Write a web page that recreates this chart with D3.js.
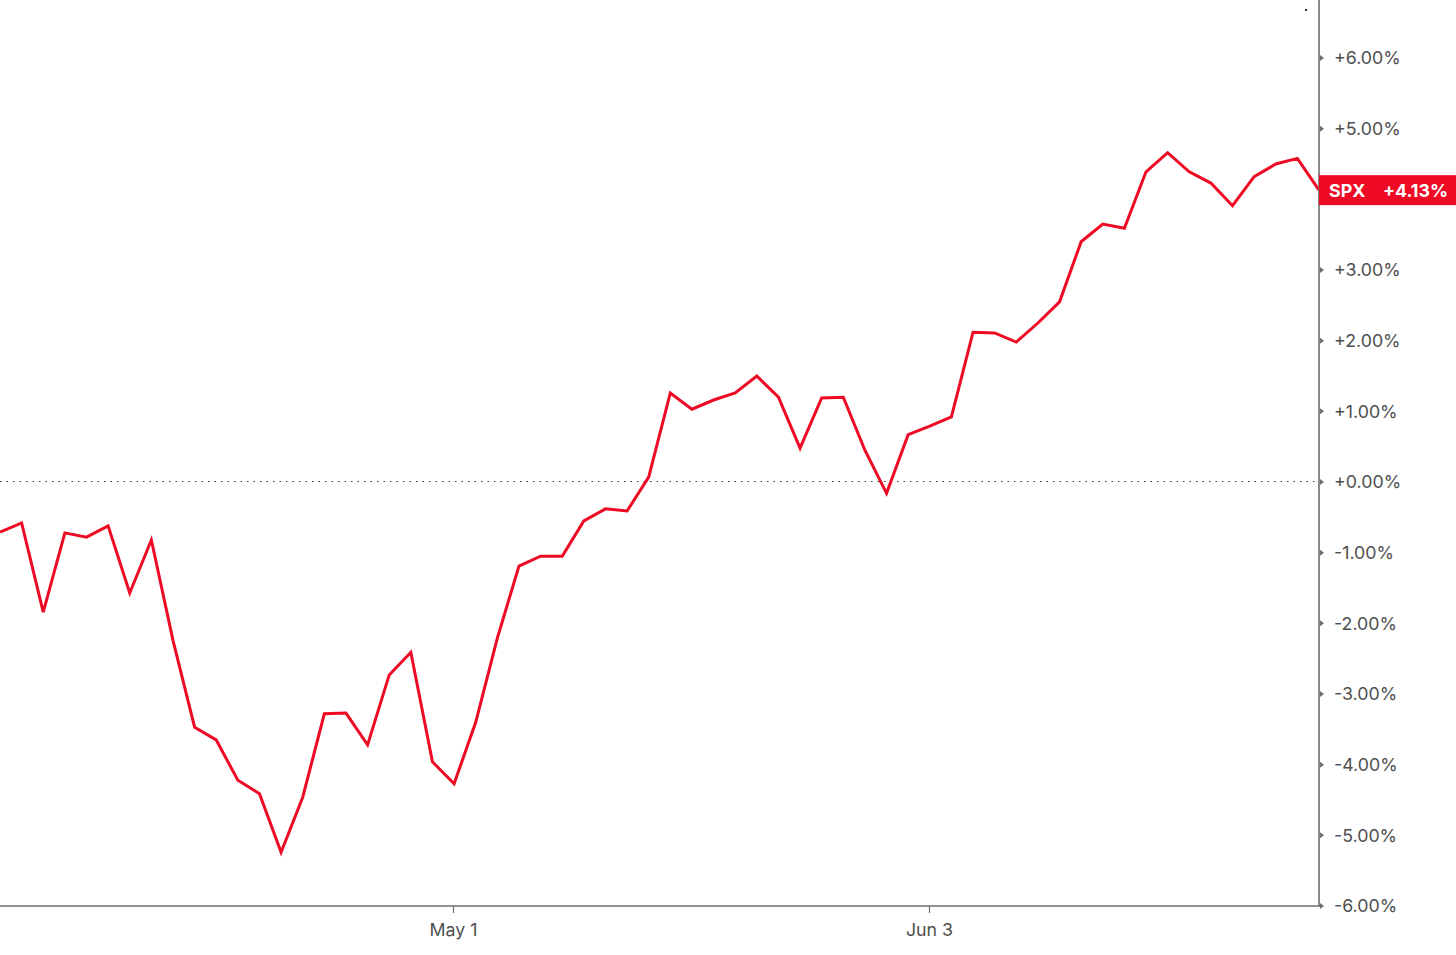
<!DOCTYPE html>
<html>
<head>
<meta charset="utf-8">
<script src="https://cdn.jsdelivr.net/npm/d3@7"></script>
<style>
  html, body { margin: 0; padding: 0; background: #fff; }
  svg { display: block; }
  text { font-family: Inter, "Liberation Sans", sans-serif; }
</style>
</head>
<body>
<svg id="chart" width="1456" height="955"></svg>
<script>
// Trading-day index 0 = Apr 2 ... 61 = Jun 28
const dayIndex = d3.range(62);
const spxPct = [
  -0.71, -0.58, -1.84, -0.72, -0.78, -0.62, -1.57, -0.82, -2.24, -3.47,
  -3.65, -4.22, -4.41, -5.24, -4.46, -3.28, -3.27, -3.72, -2.73, -2.41,
  -3.96, -4.27, -3.40, -2.21, -1.19, -1.05, -1.05, -0.55, -0.38, -0.41,
   0.07,  1.26,  1.03,  1.16,  1.26,  1.50,  1.20,  0.48,  1.19,  1.20,
   0.45, -0.16,  0.67,  0.79,  0.92,  2.12,  2.11,  1.98,  2.25,  2.55,
   3.40,  3.65,  3.59,  4.39,  4.66,  4.39,  4.23,  3.91,  4.32,  4.50,
   4.58,  4.13
];
const yTicks = [6, 5, 4, 3, 2, 1, 0, -1, -2, -3, -4, -5, -6];
const xTickIndex = [21, 43];
const xTickLabels = ["May 1", "Jun 3"];
const seriesName = "SPX";
const lastLabel = "+4.13%";

const RED = "#ee0a24";
const GREY = "#6e6e6e";
const FS = 17.8;

const svg = d3.select("#chart");
const plotLeft = 0, plotRight = 1319, plotBottom = 906;

const x = d3.scaleLinear().domain([0, 61]).range([plotLeft, plotRight]);
const y = d3.scaleLinear().domain([-6, 6]).range([906, 58]);

const fmt = v => (v >= 0 ? "+" : "-") + Math.abs(v).toFixed(2) + "%";
const lastY = y(spxPct[spxPct.length - 1]);

// zero dotted line
svg.append("line")
  .attr("x1", plotLeft).attr("x2", plotRight)
  .attr("y1", Math.round(y(0)) - 0.5).attr("y2", Math.round(y(0)) - 0.5)
  .attr("stroke", "#333").attr("stroke-width", 1.2)
  .attr("stroke-dasharray", "1.5,5");

// line
const line = d3.line().x((d, i) => x(dayIndex[i])).y(d => y(d));
svg.append("path")
  .datum(spxPct)
  .attr("d", line)
  .attr("fill", "none")
  .attr("stroke", RED)
  .attr("stroke-width", 3)
  .attr("stroke-linejoin", "miter");

// axes frame
svg.append("line")
  .attr("x1", plotRight).attr("x2", plotRight).attr("y1", 0).attr("y2", plotBottom)
  .attr("stroke", GREY).attr("stroke-width", 1.6);
svg.append("line")
  .attr("x1", 0).attr("x2", plotRight + 2).attr("y1", plotBottom).attr("y2", plotBottom)
  .attr("stroke", GREY).attr("stroke-width", 1.6);

// y ticks (small triangles) and labels; those hidden under the value box are skipped
const yAxis = svg.append("g");
yTicks.filter(t => Math.abs(y(t) - lastY) > 18).forEach(t => {
  const yy = y(t);
  yAxis.append("path")
    .attr("d", `M${plotRight + 1},${yy - 3} L${plotRight + 5},${yy} L${plotRight + 1},${yy + 3} Z`)
    .attr("fill", GREY);
  yAxis.append("text")
    .attr("x", 1334).attr("y", yy)
    .attr("dy", "0.36em")
    .attr("font-size", FS)
    .attr("fill", "#4f4f4f")
    .text(fmt(t));
});

// x ticks
const xAxis = svg.append("g");
xTickIndex.forEach((t, i) => {
  const xx = Math.round(x(t)) - 0.5;
  xAxis.append("line")
    .attr("x1", xx).attr("x2", xx).attr("y1", plotBottom).attr("y2", plotBottom + 7)
    .attr("stroke", GREY).attr("stroke-width", 1.2);
  xAxis.append("text")
    .attr("x", xx).attr("y", 936)
    .attr("text-anchor", "middle")
    .attr("font-size", FS)
    .attr("fill", "#4f4f4f")
    .text(xTickLabels[i]);
});

// last value label
svg.append("rect")
  .attr("x", plotRight).attr("y", lastY - 15)
  .attr("width", 1456 - plotRight).attr("height", 30)
  .attr("fill", RED);
svg.append("text")
  .attr("x", 1329).attr("y", lastY).attr("dy", "0.36em")
  .attr("font-size", FS).attr("font-weight", 700).attr("fill", "#fff")
  .text(seriesName);
svg.append("text")
  .attr("x", 1448).attr("y", lastY).attr("dy", "0.36em")
  .attr("text-anchor", "end")
  .attr("font-size", FS).attr("font-weight", 700).attr("fill", "#fff")
  .text(lastLabel);

// small stray dot near top
svg.append("rect").attr("x", 1305).attr("y", 9).attr("width", 2).attr("height", 2).attr("fill", "#222");
</script>
</body>
</html>
